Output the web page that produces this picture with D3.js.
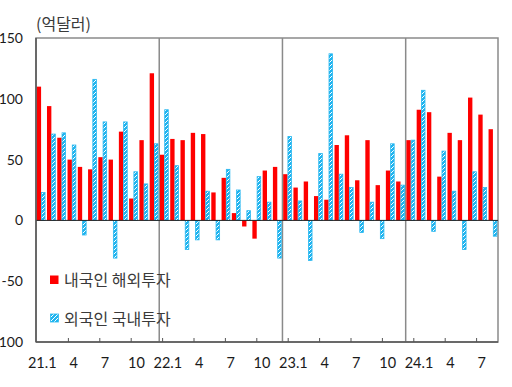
<!DOCTYPE html>
<html>
<head>
<meta charset="utf-8">
<script src="https://cdn.jsdelivr.net/npm/d3@7"></script>
<style>
    body { margin: 0; background: #fff; }
    #chart { width: 512px; height: 387px; }
    text { font-family: Lato, "Noto Sans", sans-serif; fill: #1a1a1a; }
    .kr { font-family: "Noto Sans CJK KR", sans-serif; fill: #3a3a3a; }
</style>
</head>
<body>
<div id="chart"></div>
<script>
// months 21.1 ~ 24.9
var years = [21, 22, 23, 24];
var months = [];
years.forEach(function(y) {
    var last = y == 24 ? 9 : 12;
    for (var m = 1; m <= last; m++) months.push(y + '.' + m);
});

// 내국인 해외투자 (억달러)
var outward = [110, 94, 68, 50, 44, 42, 52, 50, 73, 18, 66, 121,
               54, 67, 66, 72, 71, 23, 35, 6, -5, -15, 41, 44,
               38, 27, 32, 20, 17, 62, 70, 33, 66, 29, 41, 32,
               66, 91, 89, 36, 72, 66, 101, 87, 75];
// 외국인 국내투자 (억달러)
var inward = [23, 71, 72, 62, -12, 116, 81, -31, 81, 40, 30, 63,
              91, 45, -24, -16, 24, -16, 42, 25, 8, 36, 15, -31,
              69, 16, -33, 55, 137, 38, 27, -10, 15, -15, 63, 29,
              66, 107, -9, 57, 24, -24, 40, 27, -13];

var yTicks = [150, 100, 50, 0, -50, -100];
var seriesNames = ['내국인 해외투자', '외국인 국내투자'];

var W = 512, H = 387;
var pLeft = 36, pRight = 498, pTop = 38, pBottom = 342;

var svg = d3.select('#chart').append('svg')
    .attr('width', W).attr('height', H);

var defs = svg.append('defs');
var pat = defs.append('pattern')
    .attr('id', 'hatch')
    .attr('patternUnits', 'userSpaceOnUse')
    .attr('width', 4).attr('height', 4);
pat.append('rect').attr('width', 4).attr('height', 4).attr('fill', '#1fb4ef');
pat.append('path')
    .attr('d', 'M-1,1 l2,-2 M0,4 l4,-4 M3,5 l2,-2')
    .attr('stroke', '#ffffff').attr('stroke-width', 1);

var x = d3.scaleBand().domain(months).range([pLeft, pRight])
    .paddingInner(0.15).paddingOuter(0.07);
var xs = d3.scaleBand().domain(['out', 'in']).range([0, x.bandwidth()]);
// label axis of the original is spaced a little wider than the bars
var xLab = d3.scaleBand().domain(months).range([37, 508]);
var y = d3.scaleLinear().domain([-100, 150]).range([pBottom, pTop]);

// frame
svg.append('rect')
    .attr('x', pLeft).attr('y', pTop)
    .attr('width', pRight - pLeft).attr('height', pBottom - pTop)
    .attr('fill', 'none').attr('stroke', '#8a8a8a').attr('stroke-width', 1.5);

// year dividers
[12, 24, 36].forEach(function(i) {
    var xx = pLeft + x.step() * i;
    svg.append('line')
        .attr('x1', xx).attr('x2', xx).attr('y1', pTop).attr('y2', pBottom)
        .attr('stroke', '#8a8a8a').attr('stroke-width', 1.5);
});

// bars
var g = svg.append('g');
g.selectAll('.out').data(outward).enter().append('rect')
    .attr('x', function(d, i) { return x(months[i]) + xs('out'); })
    .attr('y', function(d) { return y(Math.max(0, d)); })
    .attr('width', xs.bandwidth())
    .attr('height', function(d) { return Math.abs(y(d) - y(0)); })
    .attr('fill', '#ff0000');

g.selectAll('.in').data(inward).enter().append('rect')
    .attr('x', function(d, i) { return x(months[i]) + xs('in') + 0.4; })
    .attr('y', function(d) { return y(Math.max(0, d)); })
    .attr('width', xs.bandwidth() - 0.8)
    .attr('height', function(d) { return Math.abs(y(d) - y(0)); })
    .attr('fill', 'url(#hatch)')
    .attr('stroke', '#2ab8f0').attr('stroke-width', 0.8);

// zero line
svg.append('line')
    .attr('x1', pLeft).attr('x2', pRight).attr('y1', y(0)).attr('y2', y(0))
    .attr('stroke', '#222').attr('stroke-width', 1);

// left and bottom axis lines
svg.append('line')
    .attr('x1', pLeft).attr('x2', pLeft).attr('y1', pTop).attr('y2', pBottom)
    .attr('stroke', '#555').attr('stroke-width', 1.5);
svg.append('line')
    .attr('x1', pLeft).attr('x2', pRight).attr('y1', pBottom).attr('y2', pBottom)
    .attr('stroke', '#555').attr('stroke-width', 1.5);

// y labels
svg.selectAll('.ylab').data(yTicks).enter().append('text')
    .attr('x', 23).attr('y', function(d) { return y(d); })
    .attr('dy', '0.35em')
    .attr('text-anchor', 'end')
    .attr('font-size', 14)
    .text(function(d) { return d; });

// x ticks and labels every 3 months
var tickMonths = months.filter(function(m, i) { return i % 3 == 0; });
svg.selectAll('.xtick').data(tickMonths.slice(1)).enter().append('line')
    .attr('x1', function(d) { return xLab(d); })
    .attr('x2', function(d) { return xLab(d); })
    .attr('y1', pBottom).attr('y2', pBottom - 4)
    .attr('stroke', '#555').attr('stroke-width', 1);

svg.selectAll('.xlab').data(tickMonths).enter().append('text')
    .attr('x', function(d) { return xLab(d) + xLab.bandwidth() / 2; })
    .attr('y', 363)
    .attr('dy', '0.35em')
    .attr('text-anchor', 'middle')
    .attr('font-size', 14.5)
    .text(function(d) {
        var p = d.split('.');
        return p[1] == '1' ? d : p[1];
    });

// unit
svg.append('text').attr('class', 'kr')
    .attr('x', 36).attr('y', 24).attr('dy', '0.35em')
    .attr('font-size', 16)
    .text('(억달러)');

// legend
var leg = svg.append('g');
leg.append('rect').attr('x', 50).attr('y', 275.5).attr('width', 8.5).attr('height', 8.5)
    .attr('fill', '#ff0000');
leg.append('rect').attr('x', 50.5).attr('y', 314).attr('width', 8).attr('height', 8)
    .attr('fill', 'url(#hatch)').attr('stroke', '#2ab8f0').attr('stroke-width', 0.8);
leg.selectAll('text').data(seriesNames).enter().append('text')
    .attr('class', 'kr')
    .attr('x', 64)
    .attr('y', function(d, i) { return i == 0 ? 280 : 319; })
    .attr('dy', '0.35em')
    .attr('font-size', 16)
    .text(function(d) { return d; });
</script>
</body>
</html>
